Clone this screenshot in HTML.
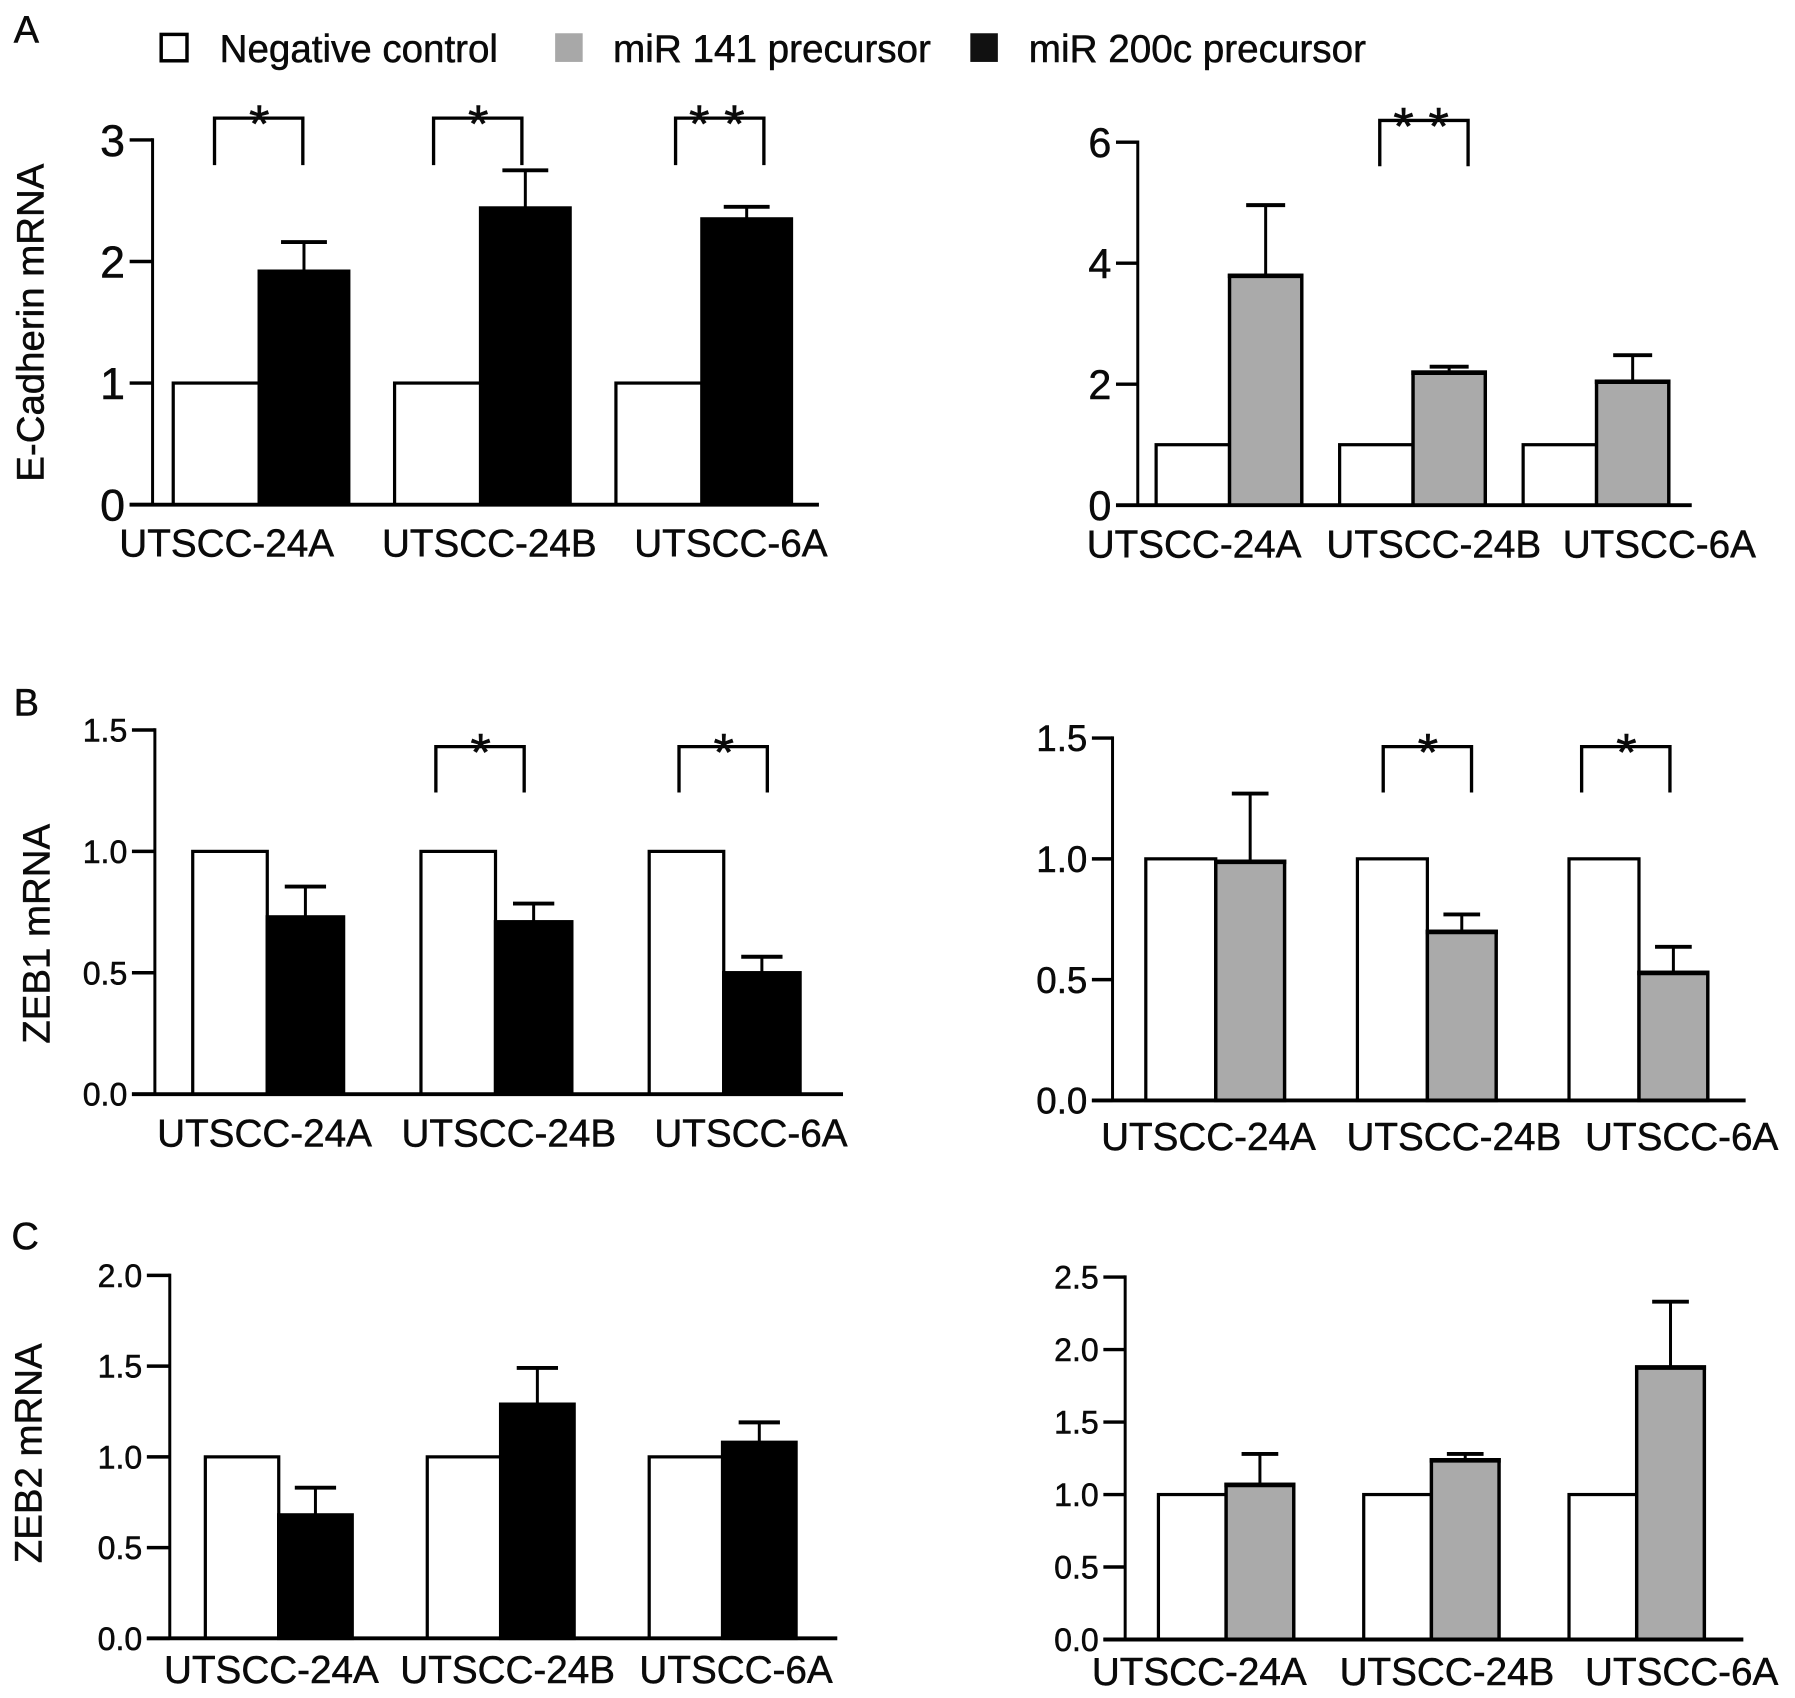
<!DOCTYPE html>
<html lang="en">
<head>
<meta charset="utf-8">
<title>E-Cadherin, ZEB1 and ZEB2 mRNA bar charts</title>
<style>
  html, body { margin: 0; padding: 0; background: #fff; }
  body { width: 1795px; height: 1698px; overflow: hidden; }
  svg { display: block; }
  text { font-family: "Liberation Sans", Arial, sans-serif; fill: #0a0a0a; stroke: #0a0a0a; stroke-width: 0.45px; }
</style>
</head>
<body>
<svg xmlns="http://www.w3.org/2000/svg" width="1795" height="1698" viewBox="0 0 1565 1480.5">
  <rect x="0" y="0" width="1565" height="1480.5" fill="#fff"/>
  <text x="12" y="37" font-size="33">A</text>
  <text x="12" y="624" font-size="33">B</text>
  <text x="10" y="1089" font-size="33">C</text>

  <g>
    <g>
      <rect x="140.5" y="30" width="22.5" height="23" fill="#fff" stroke="#000" stroke-width="3"/>
      <text x="191.5" y="54" font-size="33.6">Negative control</text>
    </g>
    <g>
      <rect x="484" y="29" width="24" height="25" fill="#a8a8a8"/>
      <text x="534.5" y="54" font-size="33.7">miR 141 precursor</text>
    </g>
    <g>
      <rect x="846" y="29" width="24" height="25" fill="#111"/>
      <text x="897" y="54" font-size="33.7">miR 200c precursor</text>
    </g>
  </g>

  <text transform="translate(38,420) rotate(-90)" font-size="33.5">E-Cadherin mRNA</text>
  <text transform="translate(43,910) rotate(-90)" font-size="33.5">ZEB1 mRNA</text>
  <text transform="translate(36,1363) rotate(-90)" font-size="33.5">ZEB2 mRNA</text>

  <g id="chart-a-left"></g>
  <g id="chart-a-right"></g>
  <g id="chart-b-left"></g>
  <g id="chart-b-right"></g>
  <g id="chart-c-left"></g>
  <g id="chart-c-right"></g>
</svg>

<script>
// ---- Data ----
const cellLines = ['UTSCC-24A', 'UTSCC-24B', 'UTSCC-6A'];
const controlValues = [1, 1, 1];

const aLeftTicks = [0, 1, 2, 3];
const aLeftTickLabels = ['0', '1', '2', '3'];
const aLeftTreated = [1.92, 2.44, 2.35];
const aLeftErrorTop = [2.16, 2.75, 2.45];
const aLeftStars = [1, 1, 2];

const aRightTicks = [0, 2, 4, 6];
const aRightTickLabels = ['0', '2', '4', '6'];
const aRightTreated = [3.8, 2.2, 2.05];
const aRightErrorTop = [4.96, 2.29, 2.48];
const aRightStars = [0, 2, 0];

const bLeftTicks = [0, 0.5, 1, 1.5];
const bLeftTickLabels = ['0.0', '0.5', '1.0', '1.5'];
const bLeftTreated = [0.73, 0.71, 0.5];
const bLeftErrorTop = [0.855, 0.785, 0.566];
const bLeftStars = [0, 1, 1];

const bRightTicks = [0, 0.5, 1, 1.5];
const bRightTickLabels = ['0.0', '0.5', '1.0', '1.5'];
const bRightTreated = [0.99, 0.7, 0.53];
const bRightErrorTop = [1.27, 0.77, 0.636];
const bRightStars = [0, 1, 1];

const cLeftTicks = [0, 0.5, 1, 1.5, 2];
const cLeftTickLabels = ['0.0', '0.5', '1.0', '1.5', '2.0'];
const cLeftTreated = [0.68, 1.29, 1.08];
const cLeftErrorTop = [0.83, 1.49, 1.19];
const cLeftStars = [0, 0, 0];

const cRightTicks = [0, 0.5, 1, 1.5, 2, 2.5];
const cRightTickLabels = ['0.0', '0.5', '1.0', '1.5', '2.0', '2.5'];
const cRightTreated = [1.07, 1.24, 1.88];
const cRightErrorTop = [1.28, 1.28, 2.33];
const cRightStars = [0, 0, 0];

// ---- Layout ----
const charts = [
  { id: 'chart-a-left', ticks: aLeftTicks, tickLabels: aLeftTickLabels, treated: aLeftTreated, errorTop: aLeftErrorTop, stars: aLeftStars,
    fill: '#000', axisX: 133, baseY: 440, topY: 122, tickFrom: 113, axisEnd: 714, tickFont: 39,
    start: 151, step: 193, controlW: 75, treatedW: 78, capHalf: 20,
    labelX: [104, 333, 553], labelY: 485, bracketX: [187, 378, 589], bracketTop: 103, bracketBottom: 144 },
  { id: 'chart-a-right', ticks: aRightTicks, tickLabels: aRightTickLabels, treated: aRightTreated, errorTop: aRightErrorTop, stars: aRightStars,
    fill: '#aaaaaa', axisX: 992, baseY: 440.5, topY: 124, tickFrom: 973, axisEnd: 1475, tickFont: 36,
    start: 1008, step: 160, controlW: 64, treatedW: 63, capHalf: 17,
    labelX: [947.5, 1156.5, 1362.5], labelY: 486, bracketX: [0, 1203, 0], bracketTop: 105, bracketBottom: 145 },
  { id: 'chart-b-left', ticks: bLeftTicks, tickLabels: bLeftTickLabels, treated: bLeftTreated, errorTop: bLeftErrorTop, stars: bLeftStars,
    fill: '#000', axisX: 135, baseY: 954, topY: 636.5, tickFrom: 115, axisEnd: 735, tickFont: 28,
    start: 168, step: 199, controlW: 65, treatedW: 66.5, capHalf: 18,
    labelX: [137, 350, 570.5], labelY: 999.5, bracketX: [0, 380, 592], bracketTop: 651, bracketBottom: 691 },
  { id: 'chart-b-right', ticks: bRightTicks, tickLabels: bRightTickLabels, treated: bRightTreated, errorTop: bRightErrorTop, stars: bRightStars,
    fill: '#aaaaaa', axisX: 970, baseY: 959.5, topY: 643.5, tickFrom: 952, axisEnd: 1522, tickFont: 32,
    start: 999, step: 184.5, controlW: 61, treatedW: 60, capHalf: 16,
    labelX: [960, 1174, 1382], labelY: 1002.5, bracketX: [0, 1206, 1379], bracketTop: 651, bracketBottom: 691 },
  { id: 'chart-c-left', ticks: cLeftTicks, tickLabels: cLeftTickLabels, treated: cLeftTreated, errorTop: cLeftErrorTop, stars: cLeftStars,
    fill: '#000', axisX: 148, baseY: 1428.5, topY: 1112, tickFrom: 128, axisEnd: 730, tickFont: 28,
    start: 179, step: 193.5, controlW: 64, treatedW: 64, capHalf: 18,
    labelX: [143, 349, 557.5], labelY: 1467.5, bracketX: [0, 0, 0], bracketTop: 0, bracketBottom: 0 },
  { id: 'chart-c-right', ticks: cRightTicks, tickLabels: cRightTickLabels, treated: cRightTreated, errorTop: cRightErrorTop, stars: cRightStars,
    fill: '#aaaaaa', axisX: 981, baseY: 1429.5, topY: 1113.5, tickFrom: 962, axisEnd: 1520, tickFont: 28,
    start: 1010, step: 179, controlW: 59, treatedW: 59, capHalf: 16,
    labelX: [952, 1168, 1382], labelY: 1469, bracketX: [0, 0, 0], bracketTop: 0, bracketBottom: 0 }
];

const SVG_NS = 'http://www.w3.org/2000/svg';

function svgEl(tag, attrs, parent) {
  const el = document.createElementNS(SVG_NS, tag);
  for (const key in attrs) el.setAttribute(key, attrs[key]);
  parent.appendChild(el);
  return el;
}

function drawChart(c) {
  const root = document.getElementById(c.id);
  const maxTick = c.ticks[c.ticks.length - 1];
  const yScale = v => c.baseY - (v / maxTick) * (c.baseY - c.topY);
  const xGroup = i => c.start + i * c.step;

  cellLines.forEach((name, i) => {
    const x0 = xGroup(i);
    const x1 = x0 + c.controlW;
    const yCtrl = yScale(controlValues[i]);
    const yVal = yScale(c.treated[i]);
    const yErr = yScale(c.errorTop[i]);
    const xc = x1 + c.treatedW / 2;

    const stem = svgEl('line', { x1: xc, x2: xc, y1: yVal, y2: yErr, stroke: '#000', 'stroke-width': 2.6 }, root);
    
    

    const cap = svgEl('line', { x1: xc - c.capHalf, x2: xc + c.capHalf, y1: yErr, y2: yErr, stroke: '#000', 'stroke-width': 3.4 }, root);
    
    

    const ctrl = svgEl('rect', { x: x0, y: yCtrl, width: c.controlW, height: c.baseY - yCtrl, fill: '#fff', stroke: '#000', 'stroke-width': 2.8 }, root);
    
    

    const bar = svgEl('rect', { x: x1, y: yVal, width: c.treatedW, height: c.baseY - yVal, fill: c.fill, stroke: '#000', 'stroke-width': 3 }, root);
    
    

    if (c.fill !== '#000') {
      const topEdge = svgEl('line', { x1: x1 - 1.5, x2: x1 + c.treatedW + 1.5, y1: yVal + 0.5, y2: yVal + 0.5, stroke: '#000', 'stroke-width': 4 }, root);
      
      
    }

    const label = svgEl('text', { x: c.labelX[i], y: c.labelY, 'font-size': 33.7 }, root);
    label.textContent = name;
    
    

    if (c.stars[i] > 0) {
      const bx = c.bracketX[i];
      const bracket = svgEl('path', {
        d: 'M' + bx + ' ' + c.bracketBottom + 'V' + c.bracketTop + 'H' + (bx + 77) + 'V' + c.bracketBottom,
        fill: 'none', stroke: '#000', 'stroke-width': 2.9
      }, root);
      
      

      const star = svgEl('text', { x: bx + (c.stars[i] === 2 ? 36 : 39), y: c.bracketTop + 21, 'font-size': 46, 'text-anchor': 'middle' }, root);
      star.textContent = c.stars[i] === 2 ? '* *' : '*';
      
      
    }
  });

  const yAxis = svgEl('line', { x1: c.axisX, x2: c.axisX, y1: c.topY - 1.5, y2: c.baseY, stroke: '#000', 'stroke-width': 2.6 }, root);
  
  

  const xAxis = svgEl('line', { x1: c.tickFrom, x2: c.axisEnd, y1: c.baseY, y2: c.baseY, stroke: '#000', 'stroke-width': 3.4 }, root);
  
  

  c.ticks.forEach((t, i) => {
    const y = yScale(t);
    const tick = svgEl('line', { x1: c.tickFrom, x2: c.axisX, y1: y, y2: y, stroke: '#000', 'stroke-width': 3 }, root);
    
    

    const txt = svgEl('text', { x: c.tickFrom - 4, y: y + c.tickFont * 0.36, 'font-size': c.tickFont, 'text-anchor': 'end' }, root);
    txt.textContent = c.tickLabels[i];
    
    
  });
}

charts.forEach(drawChart);
</script>
</body>
</html>
